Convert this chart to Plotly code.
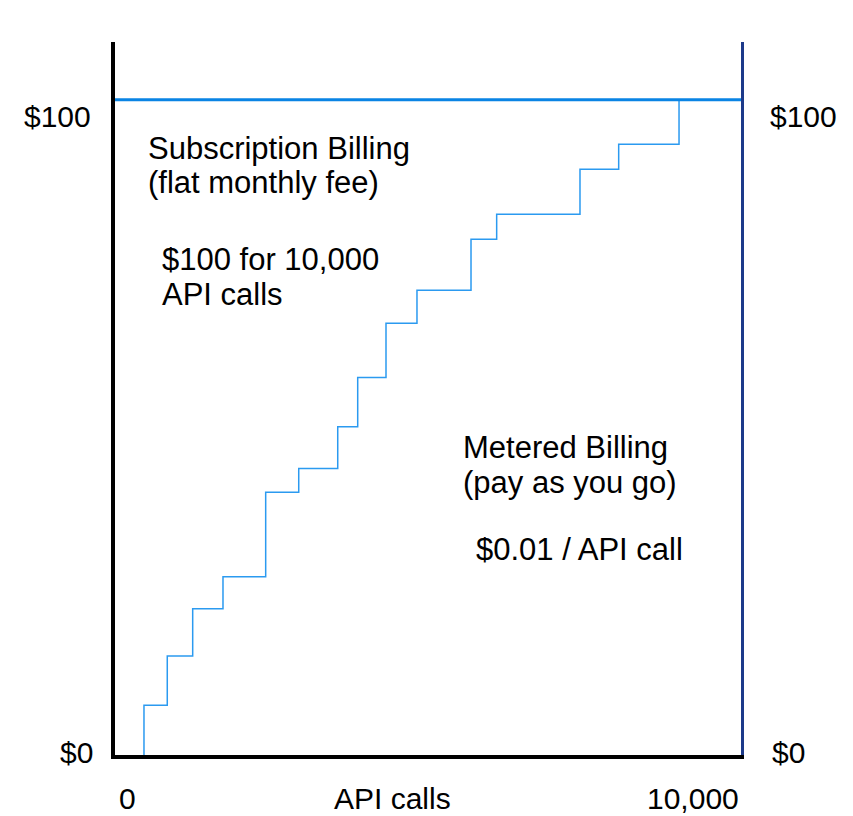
import plotly.graph_objects as go

# ---- data ----
# positions (API calls) where the metered cost steps up, and the cost level after each step
step_calls = [463, 835, 1241, 1725, 2407, 2935, 3558, 3877, 4329, 4824, 5687, 6097, 7428, 8046, 9010]
step_cost = [7.6, 15.1, 22.3, 27.2, 40.1, 43.7, 50.1, 57.6, 65.9, 70.9, 78.7, 82.5, 89.4, 93.2, 100]
flat_calls = [0, 10000]
flat_cost = [100, 100]
x_labels = ["0", "API calls", "10,000"]
y_labels = ["$0", "$100"]

OFF = 8  # page body margin
W, H = 853 - OFF, 816 - OFF
L, T = 115 - OFF, 42 - OFF
R = W - (741 - OFF)
B = H - (755 - OFF)
YMAX = 108.8

fig = go.Figure()
fig.add_trace(go.Scatter(
    x=[step_calls[0]] + step_calls, y=[0] + step_cost,
    mode="lines", line=dict(shape="hv", color="#2b9af0", width=1.5),
    hoverinfo="skip", showlegend=False))
fig.add_trace(go.Scatter(
    x=flat_calls, y=flat_cost, mode="lines",
    line=dict(color="#0a84e4", width=3), hoverinfo="skip", showlegend=False))
fig.add_trace(go.Scatter(x=[0], y=[0], yaxis="y2", mode="markers",
                         marker=dict(opacity=0), hoverinfo="skip", showlegend=False))

pw, ph = W - L - R, H - T - B
def px(x):
    return (x - OFF - L) / pw
def py(y):
    return (H - B - (y - OFF)) / ph

FONT = "Liberation Sans, Arial, sans-serif"
def ann(text, x, y, xanchor="left", size=31):
    fig.add_annotation(text=text, x=px(x), y=py(y), xref="paper", yref="paper",
                       xanchor=xanchor, yanchor="middle", showarrow=False,
                       font=dict(size=size, color="#000000", family=FONT))

ann("Subscription Billing", 146, 148)
ann("(flat monthly fee)", 146, 182)
ann("$100 for 10,000", 160, 259)
ann("API calls", 160, 294)
ann("Metered Billing", 461, 447)
ann("(pay as you go)", 461, 482)
ann("$0.01 / API call", 474, 549)
ann(y_labels[1], 57, 117, "center", 30)
ann(y_labels[1], 803, 117, "center", 30)
ann(y_labels[0], 76, 752, "center", 30)
ann(y_labels[0], 788, 752, "center", 30)
ann(x_labels[0], 127, 798, "center", 30)
ann(x_labels[1], 392, 798, "center", 30)
ann(x_labels[2], 693, 798, "center", 30)

fig.update_layout(
    width=W, height=H, margin=dict(l=L, r=R, t=T, b=B),
    paper_bgcolor="white", plot_bgcolor="white",
    xaxis=dict(range=[0, 10000], showgrid=False, zeroline=False, showticklabels=False,
               ticks="", showline=True, linecolor="#000000", linewidth=4, fixedrange=True),
    yaxis=dict(range=[0, YMAX], showgrid=False, zeroline=False, showticklabels=False,
               ticks="", showline=True, linecolor="#000000", linewidth=4, fixedrange=True),
    yaxis2=dict(range=[0, YMAX], overlaying="y", side="right", showgrid=False,
                zeroline=False, showticklabels=False, ticks="", showline=True,
                linecolor="#1d3a8a", linewidth=3, fixedrange=True),
)

fig.write_html("out.html")
